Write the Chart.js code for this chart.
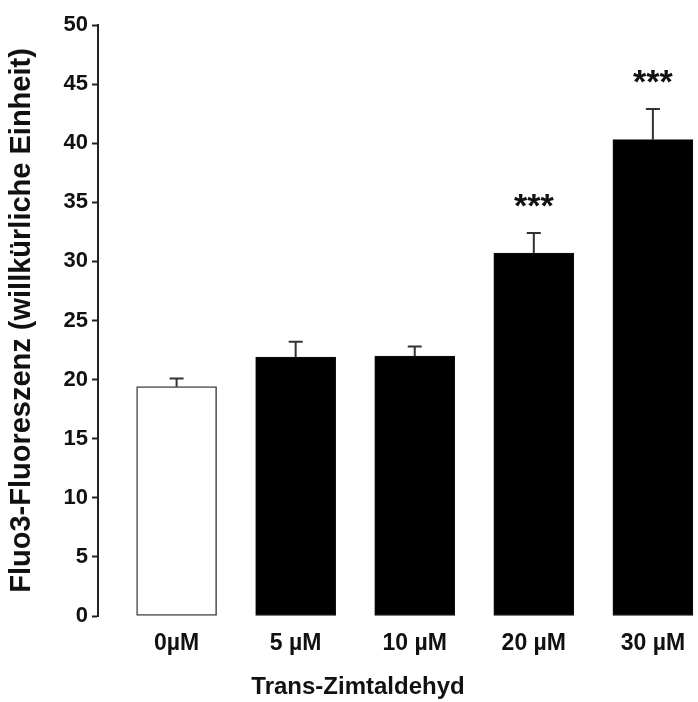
<!DOCTYPE html>
<html>
<head>
<meta charset="utf-8">
<script src="https://cdn.jsdelivr.net/npm/chart.js@4"></script>
<style>
  body { margin: 0; overflow: hidden; background: #fff; }
  #wrap { width: 716px; height: 702px; }
</style>
</head>
<body>
<div id="wrap"><canvas id="fluoChart"></canvas></div>
<script>
const categories = ["0µM", "5 µM", "10 µM", "20 µM", "30 µM"];
const means = [19.4, 21.9, 22.0, 30.7, 40.3];
const errorTop = [20.1, 23.2, 22.8, 32.4, 42.9];
const stars = ["", "", "", "***", "***"];
const yTicks = [0, 5, 10, 15, 20, 25, 30, 35, 40, 45, 50];

const FONT = "'Liberation Sans', Arial, sans-serif";

// error bars (upper only) + significance stars
const errorBars = {
  id: "errorBars",
  afterDatasetsDraw(chart) {
    const ctx = chart.ctx;
    const x = chart.scales.x;
    const y = chart.scales.y;
    ctx.save();
    ctx.strokeStyle = "#333";
    ctx.lineWidth = 2;
    errorTop.forEach((hi, i) => {
      const cx = x.getPixelForValue(i);
      const top = y.getPixelForValue(hi);
      ctx.beginPath();
      ctx.moveTo(cx, y.getPixelForValue(means[i]));
      ctx.lineTo(cx, top);
      ctx.moveTo(cx - 7, top);
      ctx.lineTo(cx + 7, top);
      ctx.stroke();
      if (stars[i]) {
        ctx.fillStyle = "#111";
        ctx.font = "bold 34px " + FONT;
        ctx.textAlign = "center";
        ctx.textBaseline = "middle";
        ctx.fillText(stars[i], cx, top - 25);
      }
    });
    ctx.restore();
  },
};

// x axis title, sits left of the chart centre like the original
const xTitle = {
  id: "xTitle",
  afterDraw(chart) {
    const ctx = chart.ctx;
    const a = chart.chartArea;
    ctx.save();
    ctx.fillStyle = "#111";
    ctx.font = "bold 24px " + FONT;
    ctx.textAlign = "center";
    ctx.textBaseline = "alphabetic";
    ctx.fillText("Trans-Zimtaldehyd", a.left + 260, a.bottom + 78);
    ctx.restore();
  },
};

new Chart(document.getElementById("fluoChart"), {
  type: "bar",
  data: {
    datasets: [
      {
        data: means.map((v, i) => ({ x: i, y: v })),
        backgroundColor: means.map((v, i) => (i === 0 ? "#fff" : "#000")),
        borderColor: means.map((v, i) => (i === 0 ? "#444" : "#111")),
        borderWidth: means.map((v, i) => (i === 0 ? 1.5 : 1)),
        borderSkipped: false,
        barThickness: 80,
      },
    ],
  },
  options: {
    responsive: true,
    maintainAspectRatio: false,
    animation: false,
    layout: { padding: { top: 25, left: 0, right: 0, bottom: 0 } },
    plugins: {
      legend: { display: false },
      tooltip: { enabled: false },
    },
    scales: {
      x: {
        type: "linear",
        min: -0.66,
        max: 4.53,
        offset: false,
        grid: { display: false },
        border: { display: false },
        afterBuildTicks: (s) => {
          s.ticks = categories.map((c, i) => ({ value: i }));
        },
        afterFit: (s) => {
          s.height = 86;
        },
        ticks: {
          autoSkip: false,
          maxRotation: 0,
          padding: 6,
          color: "#111",
          font: { family: FONT, size: 23, weight: "bold" },
          callback: (v) => categories[v],
        },
      },
      y: {
        min: 0,
        max: 50,
        afterBuildTicks: (s) => {
          s.ticks = yTicks.map((v) => ({ value: v }));
        },
        afterFit: (s) => {
          s.width = 98;
        },
        grid: {
          drawOnChartArea: false,
          tickLength: 6,
          tickWidth: 2,
          tickColor: "#222",
        },
        border: { color: "#222", width: 2 },
        ticks: {
          padding: 4,
          color: "#111",
          font: { family: FONT, size: 22, weight: "bold" },
        },
        title: {
          display: true,
          text: "Fluo3-Fluoreszenz (willkürliche Einheit)",
          color: "#111",
          padding: { top: 5, bottom: 0 },
          font: { family: FONT, size: 29, weight: "bold" },
        },
      },
    },
  },
  plugins: [errorBars, xTitle],
});
</script>
</body>
</html>
